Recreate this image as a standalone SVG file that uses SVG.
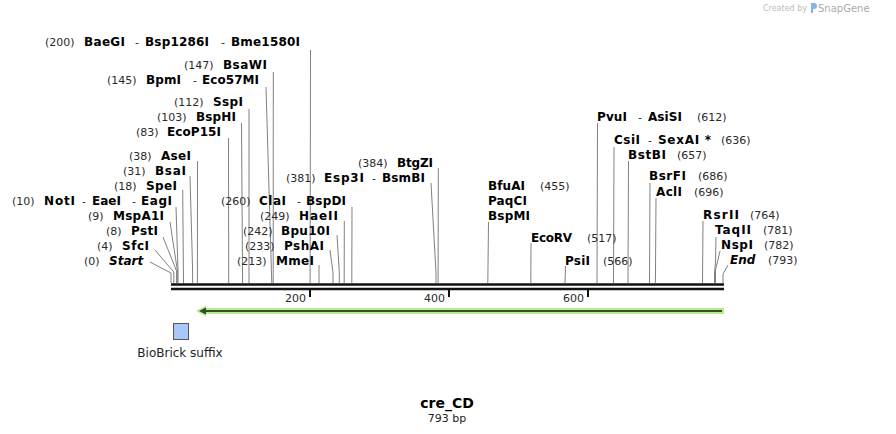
<svg xmlns="http://www.w3.org/2000/svg" width="896" height="434" viewBox="0 0 896 434">
<style>
text{font-family:"DejaVu Sans","Verdana",sans-serif}
.n{font-size:11px;fill:#2a2a2a}
.b{font-size:12px;font-weight:bold;fill:#000}
.bi{font-size:12px;font-weight:bold;font-style:italic;fill:#000}
.cut{fill:none;stroke:#808080;stroke-width:1}
.tk{stroke:#111;stroke-width:2}
</style>
<rect width="896" height="434" fill="#fff"/>
<g id="watermark">
<text x="807" y="11" font-size="8" fill="#bbb" text-anchor="end">Created by</text>
<path d="M811,3 h3 a3,3 0 0 1 0,6 h-1 v4 h-2 z" fill="#7fb5e8"/>
<text x="818" y="12" font-size="10" fill="#aaa">SnapGene</text>
</g>
<g id="connectors">
<polyline class="cut" points="150,262 171,273 171,283"/>
<polyline class="cut" points="155,250 173.8,272 173.8,283"/>
<polyline class="cut" points="163,237 176.6,271 176.6,283"/>
<polyline class="cut" points="170,222 177.3,270 177.3,283"/>
<polyline class="cut" points="176,207 178,270 178,283"/>
<polyline class="cut" points="182.7,190 183.5,283"/>
<polyline class="cut" points="190,176 192.6,270 192.6,283"/>
<polyline class="cut" points="197.5,161 197.4,283"/>
<polyline class="cut" points="228.5,138 228.7,283"/>
<polyline class="cut" points="241.5,123 242.6,283"/>
<polyline class="cut" points="249,109 249,283"/>
<polyline class="cut" points="266,87 271.8,283"/>
<polyline class="cut" points="273.3,72 273.2,283"/>
<polyline class="cut" points="310.5,50 310.1,283"/>
<polyline class="cut" points="319,265 319,283"/>
<polyline class="cut" points="330,250 333,273 333,283"/>
<polyline class="cut" points="337,235 339.3,272 339.3,283"/>
<polyline class="cut" points="344.3,221 344.2,283"/>
<polyline class="cut" points="352,207 351.8,283"/>
<polyline class="cut" points="431,183 436,273 436,283"/>
<polyline class="cut" points="438.3,168 438.1,283"/>
<polyline class="cut" points="488.5,222 487.8,283"/>
<polyline class="cut" points="531,243 530.8,283"/>
<polyline class="cut" points="565.5,266 565,283"/>
<polyline class="cut" points="597.5,123 597,283"/>
<polyline class="cut" points="614,147 613.5,283"/>
<polyline class="cut" points="628.5,161 628,283"/>
<polyline class="cut" points="650,183 649.5,283"/>
<polyline class="cut" points="656,198 655.5,273 655.3,283"/>
<polyline class="cut" points="703,221 702.5,283"/>
<polyline class="cut" points="716,237 715.5,262 714.5,273 714.5,283"/>
<polyline class="cut" points="720,251 715.5,270 715.5,283"/>
<polyline class="cut" points="728,265 723,274 723,283"/>
</g>
<g id="backbone">
<line x1="171" y1="284.5" x2="724" y2="284.5" stroke="#111" stroke-width="2.6"/>
<line x1="171" y1="289" x2="724" y2="289" stroke="#111" stroke-width="2.6"/>
<line class="tk" x1="310" y1="289" x2="310" y2="297"/>
<line class="tk" x1="449" y1="289" x2="449" y2="297"/>
<line class="tk" x1="588" y1="289" x2="588" y2="297"/>
<text class="n" x="306" y="302" text-anchor="end">200</text>
<text class="n" x="445" y="302" text-anchor="end">400</text>
<text class="n" x="584" y="302" text-anchor="end">600</text>
</g>
<g id="feature-cre">
<rect x="203" y="308" width="521" height="6" fill="#b4ee8a"/>
<polygon points="196,311 206,305.5 206,316.5" fill="#b4ee8a"/>
<line x1="204" y1="311" x2="722" y2="311" stroke="#3a4a30" stroke-width="2"/>
<polygon points="199,311 206,307.5 206,314.5" fill="#3a4a30"/>
</g>
<g id="biobrick-suffix">
<rect x="173.5" y="323.5" width="15" height="16" fill="#a8c9f8" stroke="#555" stroke-width="1"/>
<text x="180" y="357" font-size="12" fill="#222" text-anchor="middle">BioBrick suffix</text>
</g>
<g id="title">
<text x="447" y="408" font-size="14" font-weight="bold" fill="#000" text-anchor="middle">cre_CD</text>
<text x="447" y="422" font-size="11" fill="#222" text-anchor="middle">793 bp</text>
</g>
<g id="e200"><text y="46"><tspan class="n" x="45">(200)</tspan><tspan class="b" x="84" textLength="41">BaeGI</tspan><tspan class="n" x="135">-</tspan><tspan class="b" x="145" textLength="64">Bsp1286I</tspan><tspan class="n" x="221">-</tspan><tspan class="b" x="231" textLength="69">Bme1580I</tspan></text></g>
<g id="e147"><text y="69"><tspan class="n" x="184">(147)</tspan><tspan class="b" x="223" textLength="44">BsaWI</tspan></text></g>
<g id="e145"><text y="84"><tspan class="n" x="107">(145)</tspan><tspan class="b" x="146" textLength="35">BpmI</tspan><tspan class="n" x="193">-</tspan><tspan class="b" x="202" textLength="57">Eco57MI</tspan></text></g>
<g id="e112"><text y="106"><tspan class="n" x="174">(112)</tspan><tspan class="b" x="213" textLength="30">SspI</tspan></text></g>
<g id="e103"><text y="121"><tspan class="n" x="157">(103)</tspan><tspan class="b" x="196" textLength="40">BspHI</tspan></text></g>
<g id="e83"><text y="136"><tspan class="n" x="136">(83)</tspan><tspan class="b" x="167" textLength="54">EcoP15I</tspan></text></g>
<g id="e38"><text y="160"><tspan class="n" x="129">(38)</tspan><tspan class="b" x="161" textLength="30">AseI</tspan></text></g>
<g id="e31"><text y="175"><tspan class="n" x="123">(31)</tspan><tspan class="b" x="155" textLength="31">BsaI</tspan></text></g>
<g id="e18"><text y="190"><tspan class="n" x="114">(18)</tspan><tspan class="b" x="146" textLength="31">SpeI</tspan></text></g>
<g id="e10"><text y="205"><tspan class="n" x="12">(10)</tspan><tspan class="b" x="44" textLength="31">NotI</tspan><tspan class="n" x="82">-</tspan><tspan class="b" x="92" textLength="29">EaeI</tspan><tspan class="n" x="132">-</tspan><tspan class="b" x="141" textLength="31">EagI</tspan></text></g>
<g id="e9"><text y="220"><tspan class="n" x="88">(9)</tspan><tspan class="b" x="113" textLength="51">MspA1I</tspan></text></g>
<g id="e8"><text y="235"><tspan class="n" x="106">(8)</tspan><tspan class="b" x="131" textLength="27">PstI</tspan></text></g>
<g id="e4"><text y="250"><tspan class="n" x="97">(4)</tspan><tspan class="b" x="122" textLength="27">SfcI</tspan></text></g>
<g id="e0"><text y="265"><tspan class="n" x="84">(0)</tspan><tspan class="bi" x="109">Start</tspan></text></g>
<g id="e260"><text y="205"><tspan class="n" x="221">(260)</tspan><tspan class="b" x="259" textLength="27">ClaI</tspan><tspan class="n" x="297">-</tspan><tspan class="b" x="306" textLength="40">BspDI</tspan></text></g>
<g id="e249"><text y="220"><tspan class="n" x="260">(249)</tspan><tspan class="b" x="299" textLength="39">HaeII</tspan></text></g>
<g id="e242"><text y="235"><tspan class="n" x="243">(242)</tspan><tspan class="b" x="281" textLength="49">Bpu10I</tspan></text></g>
<g id="e233"><text y="250"><tspan class="n" x="245">(233)</tspan><tspan class="b" x="284" textLength="40">PshAI</tspan></text></g>
<g id="e213"><text y="265"><tspan class="n" x="237">(213)</tspan><tspan class="b" x="276" textLength="38">MmeI</tspan></text></g>
<g id="e381"><text y="182"><tspan class="n" x="286">(381)</tspan><tspan class="b" x="324" textLength="40">Esp3I</tspan><tspan class="n" x="372">-</tspan><tspan class="b" x="382" textLength="43">BsmBI</tspan></text></g>
<g id="e384"><text y="167"><tspan class="n" x="358">(384)</tspan><tspan class="b" x="397" textLength="36">BtgZI</tspan></text></g>
<g id="e455"><text y="190"><tspan class="b" x="488" textLength="37">BfuAI</tspan><tspan class="n" x="540">(455)</tspan></text><text class="b" x="488" y="205" textLength="39">PaqCI</text><text class="b" x="488" y="220" textLength="42">BspMI</text></g>
<g id="e517"><text y="242"><tspan class="b" x="531" textLength="41">EcoRV</tspan><tspan class="n" x="587">(517)</tspan></text></g>
<g id="e566"><text y="265"><tspan class="b" x="565" textLength="25">PsiI</tspan><tspan class="n" x="603">(566)</tspan></text></g>
<g id="e612"><text y="121"><tspan class="b" x="597" textLength="30">PvuI</tspan><tspan class="n" x="638">-</tspan><tspan class="b" x="648" textLength="34">AsiSI</tspan><tspan class="n" x="697">(612)</tspan></text></g>
<g id="e636"><text y="144"><tspan class="b" x="614" textLength="26">CsiI</tspan><tspan class="n" x="648">-</tspan><tspan class="b" x="658" textLength="53">SexAI *</tspan><tspan class="n" x="721">(636)</tspan></text></g>
<g id="e657"><text y="159"><tspan class="b" x="628" textLength="38">BstBI</tspan><tspan class="n" x="677">(657)</tspan></text></g>
<g id="e686"><text y="180"><tspan class="b" x="649" textLength="37">BsrFI</tspan><tspan class="n" x="698">(686)</tspan></text></g>
<g id="e696"><text y="196"><tspan class="b" x="656" textLength="26">AclI</tspan><tspan class="n" x="694">(696)</tspan></text></g>
<g id="e764"><text y="219"><tspan class="b" x="703" textLength="36">RsrII</tspan><tspan class="n" x="750">(764)</tspan></text></g>
<g id="e781"><text y="234"><tspan class="b" x="715" textLength="36">TaqII</tspan><tspan class="n" x="763">(781)</tspan></text></g>
<g id="e782"><text y="249"><tspan class="b" x="721" textLength="32">NspI</tspan><tspan class="n" x="764">(782)</tspan></text></g>
<g id="e793"><text y="264"><tspan class="bi" x="730">End</tspan><tspan class="n" x="768">(793)</tspan></text></g>
</svg>
